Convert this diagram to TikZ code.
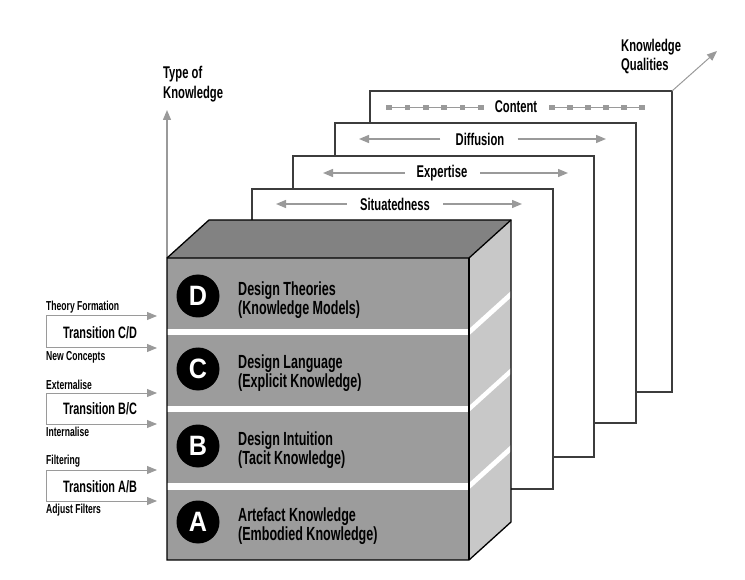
\documentclass[tikz,border=0pt]{standalone}
\usepackage{fontspec}
\setmainfont{Liberation Sans}[FakeStretch=0.66]
\newfontfamily\circfont{Liberation Sans}[FakeStretch=0.9]
\usetikzlibrary{arrows.meta}
\definecolor{frontgray}{HTML}{9C9C9C}
\definecolor{topgray}{HTML}{828282}
\definecolor{sidegray}{HTML}{C8C8C8}
\definecolor{arrowgray}{HTML}{9A9A9A}
\definecolor{panelline}{HTML}{3C3C3C}
\begin{document}
\begin{tikzpicture}[x=1pt,y=-1pt,
  panel/.style={draw=panelline,fill=white,line width=1.2pt},
  garrow/.style={draw=arrowgray,line width=1.3pt,-{Triangle[length=10pt,width=8pt]}},
  plabel/.style={font=\bfseries\fontsize{17}{17}\selectfont,inner sep=0pt},
  axlabel/.style={font=\bfseries\fontsize{17}{19.5}\selectfont,inner sep=0pt,align=left,anchor=north west},
  laylabel/.style={font=\bfseries\fontsize{19}{17.5}\selectfont,inner sep=0pt,align=left,anchor=north west},
  circ/.style={circle,fill=black,minimum size=43pt,inner sep=0pt,text=white,font=\circfont\bfseries\fontsize{28}{28}\selectfont},
  smlabel/.style={font=\bfseries\fontsize{13}{13}\selectfont,inner sep=0pt},
  trlabel/.style={font=\bfseries\fontsize{16.5}{16.5}\selectfont,inner sep=0pt},
  sq/.style={fill=arrowgray,minimum size=5.5pt,inner sep=0pt},
  band/.style={fill=white,draw=none},
  cubeedge/.style={draw=black,line width=1.3pt,line join=miter}
]
\useasboundingbox (0,0) rectangle (745,580);

% ---------- axis labels ----------
\node[axlabel] (typek) at (163,66) {Type of\\Knowledge};
\node[axlabel] (qualk) at (621,38.5) {Knowledge\\Qualities};

% ---------- panels (back to front) ----------
% Content
\draw[panel] (370,91) rectangle (672,392);
\coordinate (cTR) at (672,91);
\coordinate (qualTip) at (717,51);
\draw[garrow,line width=1pt] (cTR) -- (qualTip);
\node[plabel] (content) at (516,107) {Content};
\draw[arrowgray,line width=1pt] (389,107.5) -- (481,107.5);
\draw[arrowgray,line width=1pt] (552,107.5) -- (642,107.5);
\foreach \x [count=\i] in {389,407.4,425.8,444.2,462.6,481}{
  \node[sq] (sqL\i) at (\x,107.5) {};
}
\foreach \x [count=\i] in {552,570,588,606,624,642}{
  \node[sq] (sqR\i) at (\x,107.5) {};
}

% Diffusion
\draw[panel] (335,123) rectangle (636,423);
\node[plabel] (diff) at (480,139) {Diffusion};
\coordinate (diffL) at (359,139);
\coordinate (diffR) at (606,139);
\draw[garrow,shorten <=15pt] (diff.west) -- (diffL);
\draw[garrow,shorten <=13pt] (diff.east) -- (diffR);

% Expertise
\draw[panel] (293,156) rectangle (594,457);
\node[plabel] (expe) at (442,173) {Expertise};
\coordinate (expeL) at (323,173);
\coordinate (expeR) at (568,173);
\draw[garrow,shorten <=12pt] (expe.west) -- (expeL);
\draw[garrow,shorten <=13pt] (expe.east) -- (expeR);

% Situatedness
\draw[panel] (252,189) rectangle (553,489);
\node[plabel] (situ) at (395,204) {Situatedness};
\coordinate (situL) at (276,204);
\coordinate (situR) at (522,204);
\draw[garrow,shorten <=13pt] (situ.west) -- (situL);
\draw[garrow,shorten <=13pt] (situ.east) -- (situR);

% ---------- vertical axis ----------
\coordinate (FTL) at (167,258);
\coordinate (typeTip) at (167,110);
\draw[garrow] (FTL) -- (typeTip);

% ---------- cube ----------
\coordinate (FTR) at (469,258);
\coordinate (FBL) at (167,560);
\coordinate (FBR) at (469,560);
\coordinate (BTL) at (209,220);
\coordinate (BTR) at (511,220);
\coordinate (BBR) at (511,522);

\fill[topgray] (FTL) -- (BTL) -- (BTR) -- (FTR) -- cycle;
\fill[sidegray] (FTR) -- (BTR) -- (BBR) -- (FBR) -- cycle;
\fill[frontgray] (FTL) rectangle (FBR);

% white separators
\foreach \ya/\yb in {329/335.5, 406/412, 483/489.5}{
  \fill[band] (167,\ya) rectangle (469,\yb);
  \fill[band] (469,\ya) -- (511,\ya-38) -- (511,\yb-38) -- (469,\yb) -- cycle;
}

\draw[cubeedge] (FTL) -- (BTL) -- (BTR) -- (BBR) -- (FBR) -- (FBL) -- cycle;
\draw[cubeedge] (FTL) -- (FTR) -- (BTR);
\draw[cubeedge] (FTR) -- (FBR);

% ---------- layers ----------
\node[circ] (cD) at (198,296) {D};
\node[laylabel] (tD) at (238,281.5) {Design Theories\\(Knowledge Models)};
\node[circ] (cC) at (198,369) {C};
\node[laylabel] (tC) at (238,354.5) {Design Language\\(Explicit Knowledge)};
\node[circ] (cB) at (198,446) {B};
\node[laylabel] (tB) at (238,431.5) {Design Intuition\\(Tacit Knowledge)};
\node[circ] (cA) at (198,522) {A};
\node[laylabel] (tA) at (238,508) {Artefact Knowledge\\(Embodied Knowledge)};

% ---------- transitions ----------
% C/D
\coordinate (cdT0) at (46,316);
\coordinate (cdT1) at (157,316);
\coordinate (cdB0) at (46,348);
\coordinate (cdB1) at (157,348);
\draw[arrowgray,line width=1pt] (cdT0) -- (cdB0);
\draw[garrow,line width=1pt] (cdT0) -- (cdT1);
\draw[garrow,line width=1pt] (cdB0) -- (cdB1);
\node[smlabel,anchor=south west] (theory) at (46,313) {Theory Formation};
\node[smlabel,anchor=north west] (newc) at (46,351) {New Concepts};
\node[trlabel] (trCD) at (100,333) {Transition C/D};

% B/C
\coordinate (bcT0) at (46,393);
\coordinate (bcT1) at (157,393);
\coordinate (bcB0) at (46,424);
\coordinate (bcB1) at (157,424);
\draw[arrowgray,line width=1pt] (bcT0) -- (bcB0);
\draw[garrow,line width=1pt] (bcT0) -- (bcT1);
\draw[garrow,line width=1pt] (bcB0) -- (bcB1);
\node[smlabel,anchor=south west] (extern) at (46,390) {Externalise};
\node[smlabel,anchor=north west] (intern) at (46,427) {Internalise};
\node[trlabel] (trBC) at (100,409) {Transition B/C};

% A/B
\coordinate (abT0) at (46,470);
\coordinate (abT1) at (157,470);
\coordinate (abB0) at (46,501);
\coordinate (abB1) at (157,501);
\draw[arrowgray,line width=1pt] (abT0) -- (abB0);
\draw[garrow,line width=1pt] (abT0) -- (abT1);
\draw[garrow,line width=1pt] (abB0) -- (abB1);
\node[smlabel,anchor=south west] (filt) at (46,467) {Filtering};
\node[smlabel,anchor=north west] (adj) at (46,504) {Adjust Filters};
\node[trlabel] (trAB) at (100,487) {Transition A/B};
\end{tikzpicture}
\end{document}
